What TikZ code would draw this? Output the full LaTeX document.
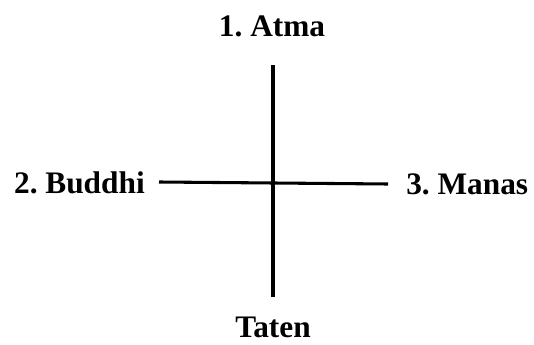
\documentclass[tikz,border=0pt]{standalone}
\usepackage{fontspec}
\setmainfont{Liberation Serif}
\usepackage{tikz}
\usetikzlibrary{positioning}
\frenchspacing
\tikzset{
  lbl/.style={inner sep=0pt,font=\fontsize{23.5}{28}\selectfont\bfseries},
  bar/.style={draw=black,line width=2.3pt}
}
\begin{document}
\begin{tikzpicture}[x=0.75pt,y=-0.75pt]
  \useasboundingbox (0,0) rectangle (534,345);
  \node[lbl,anchor=base] (atma) at (272,37) {1. Atma};
  \node[lbl,anchor=base east] (buddhi) at (145,194) {2. Buddhi};
  \node[lbl,anchor=base west] (manas) at (406,195) {3. Manas};
  \node[lbl,anchor=base] (taten) at (273,337) {Taten};
  \coordinate (top) at (273,65); \coordinate (bottom) at (273,297);
  \coordinate (left) at (159,182); \coordinate (right) at (388,184);
  \draw[bar] (top)--(bottom); \draw[bar] (left)--(right);
\end{tikzpicture}
\end{document}
